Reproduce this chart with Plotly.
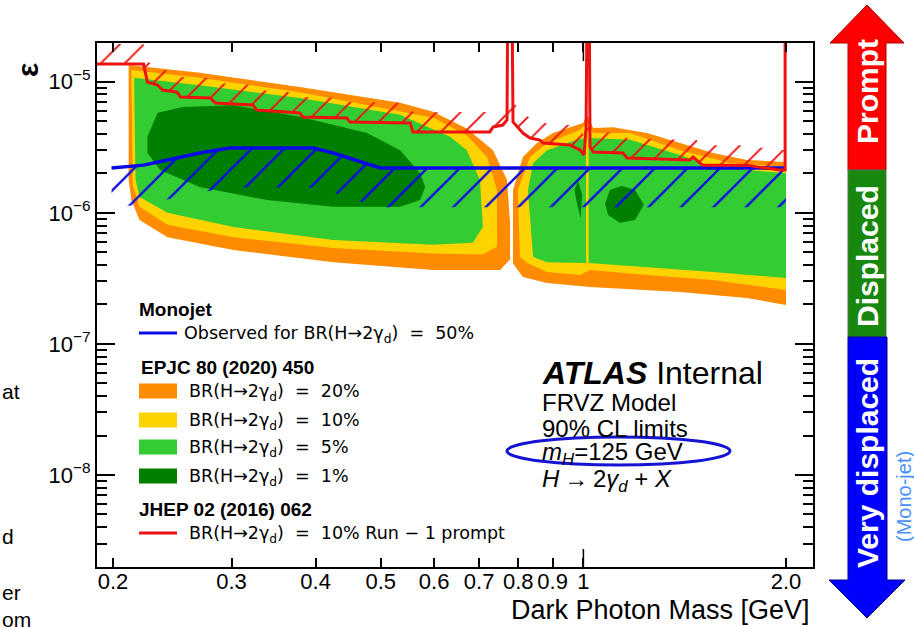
import math
import plotly.graph_objects as go

# ------------------------------------------------------------------
# Data: dark photon mass [GeV] and kinetic mixing epsilon
# ------------------------------------------------------------------
# EPJC 80 (2020) 450 exclusion regions (outer boundaries)
orange_left_mass = [0.211, 0.269, 0.379, 0.534, 0.598, 0.671, 0.734, 0.770, 0.778, 0.778, 0.752, 0.598, 0.425, 0.302, 0.241, 0.219, 0.213, 0.211]
orange_left_eps = [1.34e-5, 1.17e-5, 9.1e-6, 6.9e-6, 5.9e-6, 4.4e-6, 3.0e-6, 1.78e-6, 8.4e-7, 4.4e-7, 3.66e-7, 3.66e-7, 4.2e-7, 5.2e-7, 6.5e-7, 8.8e-7, 1.25e-6, 1.78e-6]
orange_right_mass = [0.786, 0.786, 0.813, 0.853, 0.901, 0.978, 0.999, 1.013, 1.034, 1.107, 1.243, 1.392, 1.558, 1.750, 2.0, 2.0, 1.750, 1.392, 1.107, 1.023, 0.883, 0.813]
orange_right_eps = [4.1e-7, 1.49e-6, 2.66e-6, 3.4e-6, 4.06e-6, 4.67e-6, 4.84e-6, 5.6e-6, 4.43e-6, 4.5e-6, 4.06e-6, 3.4e-6, 2.86e-6, 2.53e-6, 2.44e-6, 1.98e-7, 2.24e-7, 2.49e-7, 2.67e-7, 2.72e-7, 2.91e-7, 3.24e-7]

yellow_left_mass = [0.213, 0.269, 0.379, 0.598, 0.671, 0.719, 0.744, 0.744, 0.709, 0.598, 0.425, 0.302, 0.241, 0.219, 0.214]
yellow_left_eps = [1.23e-5, 1.07e-5, 8.3e-6, 5.3e-6, 3.9e-6, 2.66e-6, 1.49e-6, 5.5e-7, 4.8e-7, 4.9e-7, 5.4e-7, 6.5e-7, 8.1e-7, 1.11e-6, 1.64e-6]
yellow_right_mass = [0.805, 0.799, 0.833, 0.883, 0.989, 1.013, 1.034, 1.173, 1.392, 1.651, 2.0, 2.0, 1.558, 1.243, 1.023, 0.989, 0.883, 0.825]
yellow_right_eps = [4.6e-7, 1.49e-6, 2.66e-6, 3.4e-6, 4.28e-6, 4.93e-6, 4.06e-6, 4.06e-6, 3.0e-6, 2.4e-6, 2.24e-6, 2.58e-7, 3.07e-7, 3.35e-7, 3.66e-7, 3.35e-7, 3.54e-7, 4.14e-7]

green_left_mass = [0.215, 0.269, 0.379, 0.534, 0.634, 0.671, 0.702, 0.709, 0.685, 0.598, 0.425, 0.302, 0.241, 0.219, 0.216]
green_left_eps = [1.07e-5, 9.4e-6, 7.5e-6, 5.6e-6, 3.8e-6, 3.0e-6, 1.78e-6, 7.8e-7, 5.9e-7, 5.7e-7, 6.2e-7, 7.8e-7, 1.0e-6, 1.32e-6, 1.78e-6]
green_mid_mass = [0.842, 0.827, 0.842, 0.883, 0.978, 1.009, 1.009, 0.883]
green_mid_eps = [4.6e-7, 1.49e-6, 2.4e-6, 3.0e-6, 3.6e-6, 3.72e-6, 4.14e-7, 4.2e-7]
green_right_mass = [1.018, 1.173, 1.392, 1.558, 2.0, 2.0, 1.558, 1.243, 1.018]
green_right_eps = [3.72e-6, 3.6e-6, 2.76e-6, 2.24e-6, 2.0e-6, 3.18e-7, 3.54e-7, 3.86e-7, 4.14e-7]

dkgreen_left_mass = [0.225, 0.233, 0.254, 0.302, 0.379, 0.477, 0.534, 0.572, 0.582, 0.572, 0.534, 0.425, 0.339, 0.269, 0.235, 0.225]
dkgreen_left_eps = [3.8e-6, 5.8e-6, 6.4e-6, 6.6e-6, 5.4e-6, 4.06e-6, 3.0e-6, 2.0e-6, 1.57e-6, 1.25e-6, 1.11e-6, 1.11e-6, 1.25e-6, 1.57e-6, 2.12e-6, 2.86e-6]
dkgreen_blob1_mass = [1.077, 1.095, 1.141, 1.193, 1.230, 1.193, 1.133, 1.088]
dkgreen_blob1_eps = [1.18e-6, 1.49e-6, 1.6e-6, 1.49e-6, 1.15e-6, 8.8e-7, 8.4e-7, 9.6e-7]
dkgreen_blob2_mass = [0.970, 0.982, 0.996, 0.990, 0.977]
dkgreen_blob2_eps = [1.49e-6, 1.74e-6, 1.37e-6, 9.1e-7, 1.22e-6]

# JHEP 02 (2016) 062 Run-1 prompt limit (10%)
red_mass = [0.185, 0.222, 0.225, 0.233, 0.237, 0.249, 0.252, 0.279, 0.284, 0.323, 0.327, 0.379, 0.383, 0.445, 0.450, 0.553,
            0.558, 0.726, 0.734, 0.759, 0.770, 0.772, 0.783, 0.786, 0.813, 0.833, 0.862, 0.871, 0.955, 0.989, 1.002, 1.009,
            1.013, 1.020, 1.023, 1.034, 1.145, 1.161, 1.44, 1.455, 1.490, 1.505, 1.750, 1.811, 1.959, 1.994, 1.994]
red_eps = [1.365e-5, 1.365e-5, 9.95e-6, 9.44e-6, 8.64e-6, 8.34e-6, 7.64e-6, 7.51e-6, 6.88e-6, 6.64e-6, 6.08e-6, 5.77e-6, 5.38e-6, 5.29e-6, 4.93e-6, 4.84e-6,
           4.13e-6, 4.13e-6, 4.51e-6, 4.67e-6, 5.10e-6, 5e-5, 5e-5, 4.93e-6, 4.06e-6, 3.72e-6, 3.59e-6, 3.41e-6, 3.29e-6, 3.01e-6, 2.76e-6, 4.28e-6,
           5e-5, 5e-5, 3.18e-6, 2.91e-6, 2.86e-6, 2.62e-6, 2.53e-6, 2.66e-6, 2.40e-6, 2.31e-6, 2.31e-6, 2.24e-6, 2.12e-6, 2.12e-6, 5e-5]

# Monojet observed limit for BR = 50%
blue_mass = [0.199, 0.222, 0.241, 0.269, 0.298, 0.397, 0.425, 0.466, 0.499, 2.0]
blue_eps = [2.20e-6, 2.31e-6, 2.53e-6, 2.86e-6, 3.12e-6, 3.12e-6, 2.86e-6, 2.44e-6, 2.20e-6, 2.20e-6]

# axis ticks
x_tickvals = [0.2, 0.3, 0.4, 0.5, 0.6, 0.7, 0.8, 0.9, 1.0, 2.0]
x_ticktext = ["0.2", "0.3", "0.4", "0.5", "0.6", "0.7", "0.8", "0.9", "1", "2.0"]
y_tickvals = [1e-8, 1e-7, 1e-6, 1e-5]
y_ticktext = ["10<sup>\u22128</sup>", "10<sup>\u22127</sup>", "10<sup>\u22126</sup>", "10<sup>\u22125</sup>"]
y_minor = [k * 10.0 ** e for e in range(-9, -4) for k in range(2, 10)]

# legend text
leg_headers = ["Monojet", "EPJC 80 (2020) 450", "JHEP 02 (2016) 062"]
leg_labels = ["Observed for BR(H\u21922\u03b3<sub>d</sub>)  =  50%",
              "BR(H\u21922\u03b3<sub>d</sub>)  =  20%",
              "BR(H\u21922\u03b3<sub>d</sub>)  =  10%",
              "BR(H\u21922\u03b3<sub>d</sub>)  =  5%",
              "BR(H\u21922\u03b3<sub>d</sub>)  =  1%",
              "BR(H\u21922\u03b3<sub>d</sub>)  =  10% Run \u2212 1 prompt"]
atlas_lines = ["FRVZ Model", "90% CL limits", "<i>m</i><sub><i>H</i></sub>=125 GeV",
               "<i>H</i>\u2009\u2192\u20092<i>\u03b3</i><sub><i>d</i></sub> + <i>X</i>"]
arrow_labels = ["Prompt", "Displaced", "Very displaced"]

# ------------------------------------------------------------------
ORANGE = "#FF8C00"
YELLOW = "#FFD300"
GREEN = "#33CC33"
DKGREEN = "#007F00"
RED = "#EE1111"
BLUE = "#0A0AE6"
SANS = "Liberation Sans, Arial, sans-serif"
DEJAVU = "DejaVu Sans, sans-serif"

W, H = 914, 627
ML, MR, MT, MB = 97, 101, 43, 60
XR = [math.log10(0.2) - 16 / 673, math.log10(0.2) + 700 / 673]
YR = [-8.0 - 92 / 131.1, -5.0 + 38.7 / 131.1]
PW, PH = W - ML - MR, H - MT - MB


def PX(px):
    return (px - ML) / PW


def PY(py):
    return (H - MB - py) / PH


def join(*polys):
    xs, ys = [], []
    for px_, py_ in polys:
        if xs:
            xs.append(None)
            ys.append(None)
        xs += list(px_)
        ys += list(py_)
    return xs, ys


fig = go.Figure()


def region(polys, color):
    xs, ys = join(*polys)
    fig.add_trace(go.Scatter(x=xs, y=ys, mode="lines", fill="toself", fillcolor=color,
                             line=dict(width=0, color=color), hoverinfo="skip", showlegend=False))


region([(orange_left_mass, orange_left_eps), (orange_right_mass, orange_right_eps)], ORANGE)
region([(yellow_left_mass, yellow_left_eps), (yellow_right_mass, yellow_right_eps)], YELLOW)
region([(green_left_mass, green_left_eps), (green_mid_mass, green_mid_eps), (green_right_mass, green_right_eps)], GREEN)
region([(dkgreen_left_mass, dkgreen_left_eps), (dkgreen_blob1_mass, dkgreen_blob1_eps),
        (dkgreen_blob2_mass, dkgreen_blob2_eps)], DKGREEN)

# hatched bands (excluded side of the limit lines)
bx = list(blue_mass)
blo = [e * 0.5 for e in blue_eps]
fig.add_trace(go.Scatter(x=bx + bx[::-1], y=list(blue_eps) + blo[::-1], mode="lines", fill="toself",
                         fillcolor=BLUE, line=dict(width=0, color=BLUE),
                         fillpattern=dict(shape="/", fgcolor=BLUE, bgcolor="rgba(0,0,0,0)", fgopacity=1,
                                          size=23, solidity=0.1),
                         hoverinfo="skip", showlegend=False))
rx = [m for m, e in zip(red_mass, red_eps) if e < 4e-5]
ry = [e for e in red_eps if e < 4e-5]
rhi = [e * 1.42 for e in ry]
fig.add_trace(go.Scatter(x=rx + rx[::-1], y=ry + rhi[::-1], mode="lines", fill="toself",
                         fillcolor=RED, line=dict(width=0, color=RED),
                         fillpattern=dict(shape="/", fgcolor=RED, bgcolor="rgba(0,0,0,0)", fgopacity=1,
                                          size=17, solidity=0.11),
                         hoverinfo="skip", showlegend=False))

fig.add_trace(go.Scatter(x=blue_mass, y=blue_eps, mode="lines", line=dict(color=BLUE, width=3.5),
                         hoverinfo="skip", showlegend=False))
fig.add_trace(go.Scatter(x=red_mass, y=red_eps, mode="lines", line=dict(color=RED, width=3),
                         hoverinfo="skip", showlegend=False))

fig.update_xaxes(type="log", range=XR, tickmode="array", tickvals=x_tickvals, ticktext=x_ticktext,
                 ticks="inside", ticklen=9, tickwidth=1.5, tickcolor="black", ticklabelstandoff=-6,
                 showline=True, linewidth=2, linecolor="black", mirror="ticks",
                 showgrid=False, zeroline=False, tickfont=dict(family=SANS, size=22, color="black"))
fig.update_yaxes(type="log", range=YR, tickmode="array", tickvals=y_tickvals, ticktext=y_ticktext,
                 ticks="inside", ticklen=18, tickwidth=1.5, tickcolor="black",
                 minor=dict(tickmode="array", tickvals=y_minor, ticks="inside", ticklen=10, tickwidth=1.5,
                            tickcolor="black", showgrid=False),
                 showline=True, linewidth=2, linecolor="black", mirror="ticks",
                 showgrid=False, zeroline=False, tickfont=dict(family=SANS, size=22, color="black"))

shapes = []
# long ticks at x = 1
x1p = (math.log10(1.0) - XR[0]) / (XR[1] - XR[0])
for y0, y1 in [(0, 18 / PH), (1 - 18 / PH, 1)]:
    shapes.append(dict(type="line", xref="paper", yref="paper", x0=x1p, x1=x1p, y0=y0, y1=y1,
                       line=dict(color="black", width=1.5)))

# legend swatches
shapes.append(dict(type="line", xref="paper", yref="paper", x0=PX(139), x1=PX(177), y0=PY(333), y1=PY(333),
                   line=dict(color=BLUE, width=3)))
for yc, col in zip([391, 420, 447, 476], [ORANGE, YELLOW, GREEN, DKGREEN]):
    shapes.append(dict(type="rect", xref="paper", yref="paper", x0=PX(139), x1=PX(177), y0=PY(yc + 7.5),
                       y1=PY(yc - 7.5), fillcolor=col, line=dict(width=0)))
shapes.append(dict(type="line", xref="paper", yref="paper", x0=PX(139), x1=PX(177), y0=PY(533), y1=PY(533),
                   line=dict(color=RED, width=3)))

# ellipse around m_H
shapes.append(dict(type="circle", xref="paper", yref="paper", x0=PX(507), x1=PX(730), y0=PY(465), y1=PY(437),
                   line=dict(color="#1414D2", width=3)))


def path(pts):
    return "M " + " L ".join(f"{PX(a):.5f},{PY(b):.5f}" for a, b in pts) + " Z"


shapes.append(dict(type="path", xref="paper", yref="paper",
                   path=path([(848, 170), (848, 43), (830, 43), (867, 5), (904, 43), (886, 43), (886, 170)]),
                   fillcolor="#FF0000", line=dict(color="#B00000", width=1)))
shapes.append(dict(type="rect", xref="paper", yref="paper", x0=PX(848), x1=PX(886), y0=PY(337), y1=PY(170),
                   fillcolor="#18870E", line=dict(color="#4A7A4A", width=1)))
shapes.append(dict(type="path", xref="paper", yref="paper",
                   path=path([(848, 337), (848, 580), (829, 580), (867, 618), (905, 580), (887, 580), (887, 337)]),
                   fillcolor="#0000FF", line=dict(color="#00008B", width=1)))

ann = []


def text(t, px, py, size, family=SANS, color="black", xanchor="left", angle=0):
    ann.append(dict(text=t, x=PX(px), y=PY(py), xref="paper", yref="paper", showarrow=False,
                    xanchor=xanchor, yanchor="middle", textangle=angle,
                    font=dict(family=family, size=size, color=color)))


# legend texts
text(f"<b>{leg_headers[0]}</b>", 137, 309, 19)
text(leg_labels[0], 182, 334, 17.5, DEJAVU)
text(f"<b>{leg_headers[1]}</b>", 139, 367, 19)
for lab, yc in zip(leg_labels[1:5], [391, 420, 447, 476]):
    text(lab, 187, yc + 1, 17.5, DEJAVU)
text(f"<b>{leg_headers[2]}</b>", 137, 509, 19)
text(leg_labels[5], 187, 534, 17.5, DEJAVU)

# ATLAS block
text("<b><i>ATLAS</i></b> Internal", 540, 373, 32)
for ln, yc in zip(atlas_lines, [402, 428, 453, 480]):
    text(ln, 540, yc, 24)

# axis titles
text("Dark Photon Mass [GeV]", 812, 610, 27, xanchor="right")
text("<b>\u03b5</b>", 27, 70, 30, xanchor="center", angle=-90)

# arrow labels
for lab, yc in zip(arrow_labels, [92, 256, 463]):
    text(f"<b>{lab}</b>", 867, yc, 30, color="white", xanchor="center", angle=-90)
text("(Mono-jet)", 904, 497, 20, color="#4A90FF", xanchor="center", angle=-90)

# cut-off slide text on the left
for t, yc in zip(["at", "d", "er", "om"], [391, 536, 592, 619]):
    text(t, 0, yc, 21)

fig.update_layout(width=W, height=H, margin=dict(l=ML, r=MR, t=MT, b=MB),
                  paper_bgcolor="white", plot_bgcolor="white", showlegend=False,
                  shapes=shapes, annotations=ann)

fig.write_html("out.html", config={"displayModeBar": False},
               post_script="document.body.style.margin='0px';")
